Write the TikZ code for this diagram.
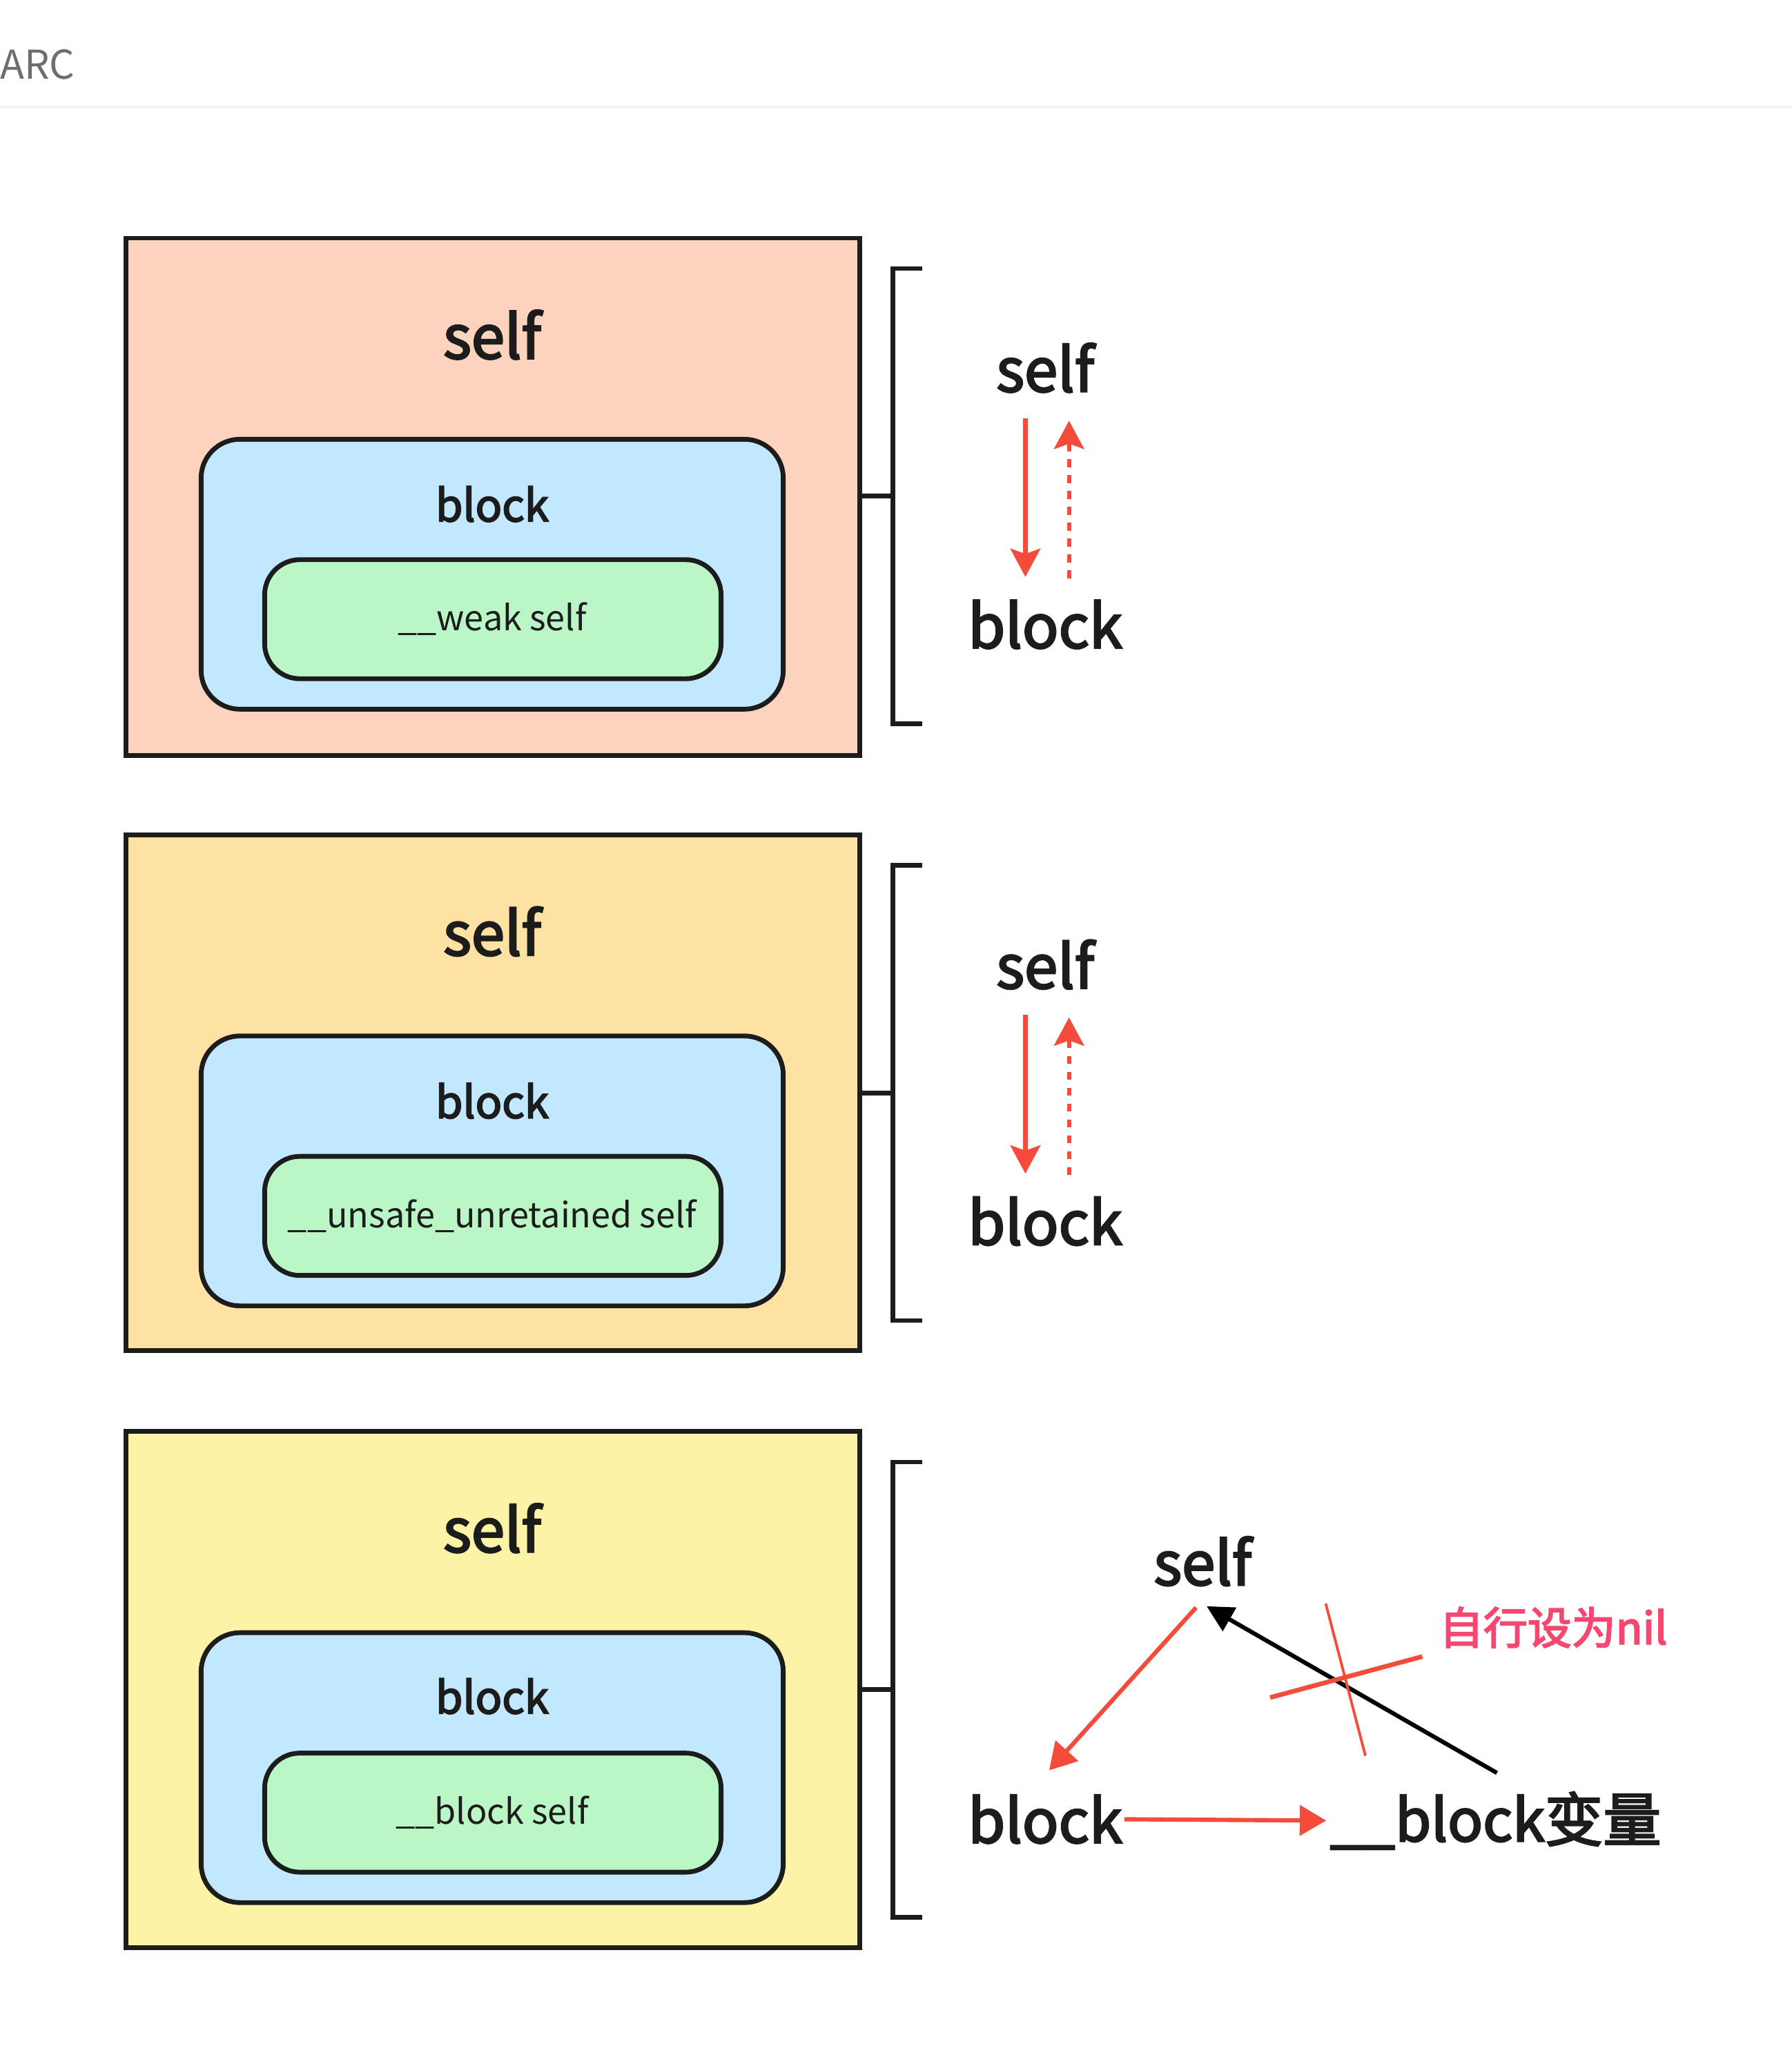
\documentclass[tikz,border=0pt]{standalone}
\usepackage{fontspec}
\setmainfont{Noto Sans CJK SC}
\newfontfamily\medfont{Noto Sans CJK SC}[FakeBold=3]
\usetikzlibrary{arrows.meta}

\definecolor{inkblack}{RGB}{28,28,28}
\definecolor{arcgray}{RGB}{110,110,110}
\definecolor{rulegray}{RGB}{243,243,243}
\definecolor{peach}{RGB}{252,211,188}
\definecolor{apricot}{RGB}{253,226,164}
\definecolor{lemon}{RGB}{253,243,167}
\definecolor{blockblue}{RGB}{193,232,253}
\definecolor{vargreen}{RGB}{187,247,198}
\definecolor{arrowred}{RGB}{244,75,59}
\definecolor{notepink}{RGB}{244,72,112}

\begin{document}
\begin{tikzpicture}[x=0.75pt,y=0.75pt,yscale=-1,xscale=1,
  frame/.style={draw=inkblack, line width=2.7pt},
  roundbox/.style={draw=inkblack, line width=2.7pt, rounded corners=22pt},
  bracket/.style={draw=inkblack, line width=2.6pt},
  titletext/.style={inner sep=0pt, text=inkblack, font=\medfont\fontsize{34}{40}\selectfont},
  boxtext/.style={inner sep=0pt, text=inkblack, font=\medfont\fontsize{25}{30}\selectfont},
  vartext/.style={inner sep=0pt, text=inkblack, font=\fontsize{19.7}{24}\selectfont},
  reftext/.style={inner sep=0pt, text=inkblack, font=\medfont\fontsize{34}{40}\selectfont},
  strong/.style={draw=arrowred, line width=2.4pt, -{Stealth[length=16pt, width=17pt, inset=3pt]}},
  weak/.style={draw=arrowred, line width=2.4pt, dash pattern=on 4.5pt off 4.5pt, -{Stealth[length=16pt, width=17pt, inset=3pt]}},
  redarrow/.style={draw=arrowred, line width=2.4pt, -{Triangle[length=15pt, width=17pt]}},
  blackarrow/.style={draw=black, line width=2.4pt, -{Triangle[length=15pt, width=15pt]}}]
\useasboundingbox (0,0) rectangle (1354.4,1560);

% Header
\node (arc) [anchor=west, inner sep=0pt, text=arcgray, font=\fontsize{22.5}{27}\selectfont] at (0,49) {ARC};
\draw [rulegray, line width=1.5pt] (0,81) -- (1354.4,81);

%Shape: Panel 1 (__weak)
\draw [frame, fill=peach] (95,180) rectangle (650,571);
\draw [roundbox, fill=blockblue] (152,332) rectangle (592,536);
\draw [roundbox, fill=vargreen, rounded corners=20pt] (200,423) rectangle (545,513);
\node (t1) [titletext] at (372,253) {self};
\node (k1) [boxtext] at (372,381) {block};
\node (v1) [vartext] at (372,468) {\_\_weak self};
%Bracket 1
\draw [bracket] (650,375) -- (675,375);
\draw [bracket] (697,203) -- (675,203) -- (675,547) -- (697,547);
\node (s1) [reftext] at (790,278) {self};
\node (b1) [reftext] at (790,472) {block};
\draw [strong] ([shift={(-15,38)}]s1.center) -- ([shift={(-15,-36)}]b1.center);
\draw [weak] ([shift={(18,-35)}]b1.center) -- ([shift={(18,40)}]s1.center);

%Shape: Panel 2 (__unsafe_unretained)
\draw [frame, fill=apricot] (95,631) rectangle (650,1021);
\draw [roundbox, fill=blockblue] (152,783) rectangle (592,987);
\draw [roundbox, fill=vargreen, rounded corners=20pt] (200,874) rectangle (545,964);
\node (t2) [titletext] at (372,704) {self};
\node (k2) [boxtext] at (372,832) {block};
\node (v2) [vartext] at (372,919) {\_\_unsafe\_unretained self};
%Bracket 2
\draw [bracket] (650,826) -- (675,826);
\draw [bracket] (697,654) -- (675,654) -- (675,998) -- (697,998);
\node (s2) [reftext] at (790,729) {self};
\node (b2) [reftext] at (790,923) {block};
\draw [strong] ([shift={(-15,38)}]s2.center) -- ([shift={(-15,-36)}]b2.center);
\draw [weak] ([shift={(18,-35)}]b2.center) -- ([shift={(18,40)}]s2.center);

%Shape: Panel 3 (__block)
\draw [frame, fill=lemon] (95,1082) rectangle (650,1472);
\draw [roundbox, fill=blockblue] (152,1234) rectangle (592,1438);
\draw [roundbox, fill=vargreen, rounded corners=20pt] (200,1325) rectangle (545,1415);
\node (t3) [titletext] at (372,1155) {self};
\node (k3) [boxtext] at (372,1282) {block};
\node (v3) [vartext] at (372,1370) {\_\_block self};
%Bracket 3
\draw [bracket] (650,1277) -- (675,1277);
\draw [bracket] (697,1105) -- (675,1105) -- (675,1449) -- (697,1449);
\node (s3) [reftext] at (909,1180) {self};
\node (b3) [reftext] at (790,1375) {block};
\node (bv) [reftext, anchor=west, font=\medfont\fontsize{33}{40}\selectfont] at (1005,1376) {\_\_block变量};
\node (nil) [inner sep=0pt, text=notepink, font=\medfont\fontsize{25}{30}\selectfont] at (1174,1230) {自行设为nil};
\draw [redarrow] ([shift={(-5,35)}]s3.center) -- ([shift={(3,-37)}]b3.center);
\draw [redarrow] ([xshift=1pt]b3.east) -- ([xshift=-2pt]bv.west);
\draw [blackarrow] ([shift={(1,-36)}]bv.center) -- ([shift={(3,34)}]s3.center);
%Cross
\draw [arrowred, line width=1.5pt] (1002,1212) -- (1032,1327);
\draw [arrowred, line width=2.6pt] (960,1283) -- (1075,1252);

\end{tikzpicture}
\end{document}
